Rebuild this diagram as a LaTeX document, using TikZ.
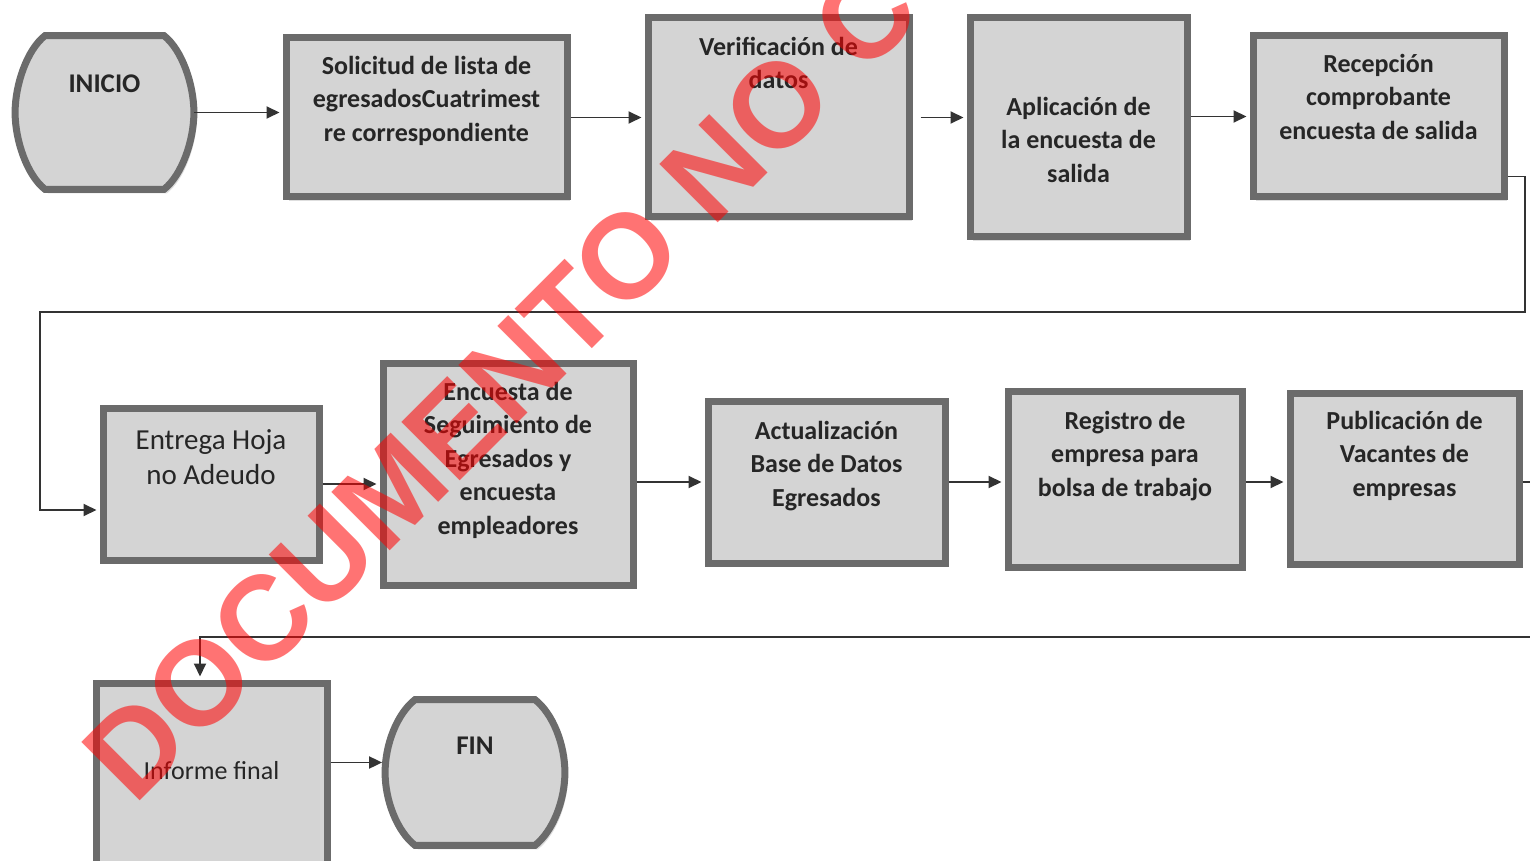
\documentclass[tikz,border=0pt]{standalone}
\usepackage{fontspec}
\setmainfont{Carlito}
\newfontfamily\stampfont{Liberation Sans}
\usetikzlibrary{calc,arrows.meta,shadows,backgrounds}
\tikzstyle{startstop} = [rectangle, inner sep=0pt, font=\bfseries\fontsize{13.5}{16.75}\selectfont, text=black!85]
\tikzstyle{stopline} = [draw=black!58, line width=3.5pt, fill=black!17, drop shadow={shadow xshift=1.5pt, shadow yshift=-2pt, fill=black!25}]
\tikzstyle{process} = [rectangle, draw=black!58, line width=3.5pt, fill=black!17, inner sep=0pt, drop shadow={shadow xshift=1.5pt, shadow yshift=-2pt, fill=black!25}, font=\bfseries\fontsize{13}{16.75}\selectfont, text=black!85]
\tikzstyle{plain} = [font=\fontsize{13}{16.75}\selectfont]
\tikzstyle{arrow} = [line width=0.95pt, draw=black!80, -{Triangle[length=6.5pt,width=6pt]}, shorten >=1.5pt]
\tikzstyle{stamp} = [rotate=45, anchor=base west, inner sep=0pt, text=red, text opacity=0.55, font=\stampfont\bfseries\fontsize{60}{60}\selectfont]
% width, height, gap above first line, lines
\newcommand{\boxtxt}[4]{\parbox[c][#2][t]{#1}{\centering\vspace*{#3}\strut #4}}

\begin{document}
\begin{tikzpicture}[x=0.5pt, y=-0.5pt]
\useasboundingbox (0,0) rectangle (1530,861);
\begin{scope}[on background layer]
\fill[white] (0,0) rectangle (1530,861);
\end{scope}

% first row
\node (start) [startstop] at (104.5,112.5) {\boxtxt{89pt}{76.5pt}{16.3pt}{INICIO}};
\node (pro1) [process] at (426.5,117.5) {\boxtxt{140.5pt}{79.5pt}{6.3pt}{Solicitud de lista de\\ egresadosCuatrimest\\ re correspondiente}};
\node (pro2) [process] at (778.5,117.5) {\boxtxt{130.5pt}{99.5pt}{6.8pt}{Verificación de\\ datos}};
\node (pro3) [process] at (1078.5,127.5) {\boxtxt{108.5pt}{109.5pt}{36.8pt}{Aplicación de\\ la encuesta de\\ salida}};
\node (pro4) [process] at (1378.5,116.5) {\boxtxt{125.5pt}{80.5pt}{6.3pt}{Recepción\\ comprobante\\ encuesta de salida}};

% second row
\node (pro5) [process, font=\fontsize{14.5}{17.5}\selectfont] at (211,484) {\boxtxt{108pt}{76pt}{8.3pt}{Entrega Hoja\\ no Adeudo}};
\node (pro6) [process] at (508,474) {\boxtxt{125pt}{111pt}{6.8pt}{Encuesta de\\ Seguimiento de\\ Egresados y\\ encuesta\\ empleadores}};
\node (pro7) [process] at (826.5,482) {\boxtxt{118.5pt}{81pt}{7.3pt}{Actualización\\ Base de Datos\\ Egresados}};
\node (pro8) [process] at (1125,479) {\boxtxt{117pt}{88pt}{7.3pt}{Registro de\\ empresa para\\ bolsa de trabajo}};
\node (pro9) [process] at (1404.5,478.5) {\boxtxt{114.5pt}{85.5pt}{6.3pt}{Publicación de\\ Vacantes de\\ empresas}};

% third row
\node (pro10) [process, plain] at (211.5,775) {\boxtxt{115.5pt}{92pt}{36.3pt}{Informe final}};
\node (stop) [startstop] at (475,772.5) {\boxtxt{89.5pt}{72.5pt}{15.3pt}{FIN}};

% outline of INICIO and FIN
\begin{scope}[on background layer]
\foreach \n in {start,stop}
  \draw [stopline] ($(\n.north west)+(30,0)$) -- ($(\n.north east)+(-30,0)$)
    .. controls ($(\n.north east)+(-12,14)$) and ($(\n.east)+(0,-28)$) .. (\n.east)
    .. controls ($(\n.east)+(0,28)$) and ($(\n.south east)+(-12,-14)$) .. ($(\n.south east)+(-30,0)$)
    -- ($(\n.south west)+(30,0)$)
    .. controls ($(\n.south west)+(12,-14)$) and ($(\n.west)+(0,28)$) .. (\n.west)
    .. controls ($(\n.west)+(0,-28)$) and ($(\n.north west)+(12,14)$) .. cycle;
\end{scope}

\coordinate (c1) at (1525,312);
\coordinate (c2) at (40,312);
\coordinate (c3) at (1545,637);
\coordinate (c4) at (200,637);
\coordinate (finin) at ($(stop.west)+(0,-10)$);

\draw [arrow] (start.east) -- (start.east -| pro1.west);
\draw [arrow] (pro1) -- (pro2);
\draw [arrow] ([xshift=4pt]pro2.east) -- (pro2.east -| pro3.west);
\draw [arrow] (pro3.east |- pro4.west) -- (pro4.west);
\draw [arrow] ([yshift=12pt]pro4.south east) -| (c1) -- (c2) |- ([yshift=-13pt]pro5.west);
\draw [arrow] (pro5.east) -- (pro5.east -| pro6.west);
\draw [arrow] (pro6.east |- pro7.west) -- (pro7.west);
\draw [arrow] (pro7.east) -- (pro7.east -| pro8.west);
\draw [arrow] (pro8.east |- pro7.east) -- (pro7.east -| pro9.west);
\draw [arrow] (pro9.east |- pro7.east) -| (c3) -- (c4) -- (c4 |- pro10.north);
\draw [arrow] (pro10.east |- finin) -- (finin);

\node (mark) [stamp] at (134,807) {DOCUMENTO NO C};

\end{tikzpicture}
\end{document}
